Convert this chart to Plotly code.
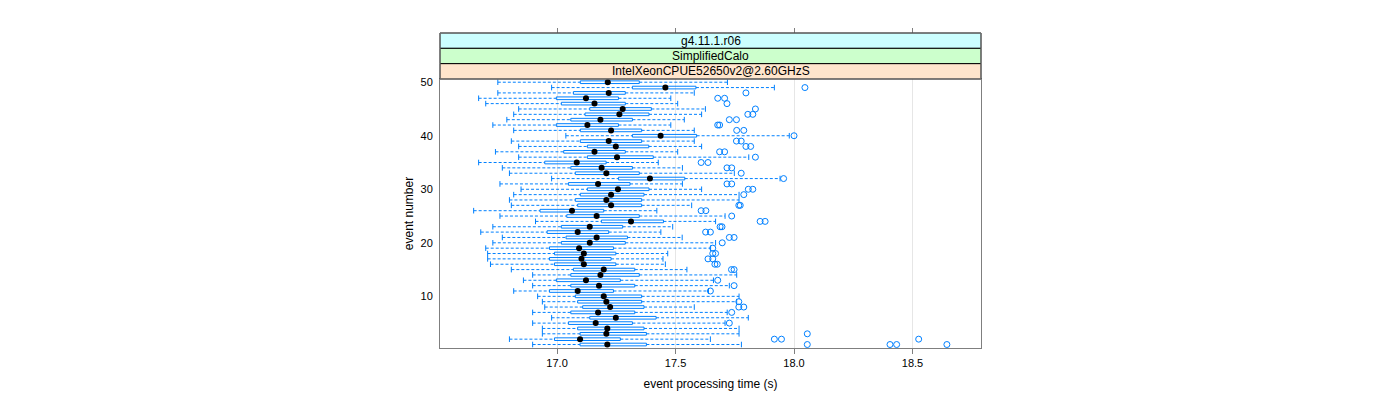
import plotly.graph_objects as go

# ---------------- data (event 1 .. 50) ----------------
events = list(range(1, 51))
whisker_low = [16.897, 16.799, 16.938, 16.938, 16.897, 16.977, 16.897, 16.948, 16.938, 16.918,
               16.817, 16.897, 16.858, 16.897, 16.807, 16.719, 16.707, 16.707, 16.699, 16.729,
               16.769, 16.678, 16.729, 16.909, 16.759, 16.648, 16.807, 16.799, 16.817, 16.848,
               16.759, 16.977, 16.799, 16.769, 16.669, 16.838, 16.740, 16.838, 16.807, 17.037,
               16.817, 16.729, 16.788, 16.817, 16.838, 16.699, 16.669, 16.750, 16.977, 16.750]
q1 = [17.097, 16.989, 17.097, 17.087, 17.048, 17.138, 17.058, 17.108, 17.087, 17.077,
      16.968, 17.058, 16.997, 17.058, 17.069, 16.989, 16.968, 16.989, 16.968, 17.018,
      17.038, 16.958, 17.018, 17.187, 17.041, 16.928, 17.087, 17.077, 17.098, 17.128,
      17.048, 17.259, 17.077, 17.058, 16.948, 17.128, 17.028, 17.128, 17.098, 17.318,
      17.098, 16.997, 17.058, 17.118, 17.138, 17.018, 16.997, 17.069, 17.318, 17.098]
median = [17.212, 17.097, 17.208, 17.212, 17.163, 17.248, 17.173, 17.224, 17.208, 17.197,
          17.087, 17.177, 17.122, 17.183, 17.197, 17.113, 17.103, 17.113, 17.093, 17.138,
          17.167, 17.087, 17.138, 17.312, 17.167, 17.063, 17.228, 17.208, 17.228, 17.257,
          17.173, 17.392, 17.208, 17.188, 17.083, 17.253, 17.158, 17.248, 17.218, 17.437,
          17.228, 17.128, 17.183, 17.263, 17.277, 17.158, 17.122, 17.218, 17.457, 17.214]
q3 = [17.377, 17.267, 17.377, 17.367, 17.318, 17.418, 17.328, 17.367, 17.357, 17.357,
      17.238, 17.328, 17.267, 17.347, 17.328, 17.248, 17.228, 17.248, 17.238, 17.288,
      17.297, 17.218, 17.277, 17.449, 17.347, 17.197, 17.357, 17.357, 17.367, 17.388,
      17.308, 17.539, 17.347, 17.318, 17.207, 17.406, 17.288, 17.387, 17.357, 17.589,
      17.357, 17.259, 17.318, 17.388, 17.398, 17.288, 17.259, 17.288, 17.586, 17.347]
whisker_high = [17.778, 17.647, 17.768, 17.768, 17.709, 17.807, 17.718, 17.579, 17.758, 17.768,
                17.639, 17.727, 17.660, 17.758, 17.548, 17.457, 17.447, 17.467, 17.648, 17.669,
                17.528, 17.438, 17.488, 17.669, 17.709, 17.421, 17.568, 17.768, 17.768, 17.610,
                17.529, 17.941, 17.748, 17.529, 17.427, 17.809, 17.509, 17.610, 17.579, 17.980,
                17.579, 17.480, 17.537, 17.610, 17.626, 17.509, 17.480, 17.579, 17.917, 17.719]

outlier_event = [1, 1, 1, 1, 2, 2, 2, 3, 5, 7, 8, 8, 9, 11, 12, 13, 15, 15, 16, 16,
                 17, 17, 18, 18, 19, 20, 21, 21, 22, 22, 23, 23, 24, 24, 25, 26, 26, 27, 27,
                 29, 30, 30, 31, 31, 32, 33, 34, 34, 35, 35, 36, 37, 37, 38, 38, 39, 39, 40,
                 41, 41, 42, 42, 43, 43, 44, 44, 45, 46, 47, 47, 48, 49]
outlier_value = [18.056, 18.405, 18.433, 18.645, 17.917, 17.947, 18.526, 18.056, 17.727, 17.737,
                 17.767, 17.788, 17.767, 17.647, 17.747, 17.678, 17.736, 17.747, 17.666, 17.676,
                 17.637, 17.657, 17.657, 17.669, 17.657, 17.697, 17.727, 17.747, 17.627, 17.647,
                 17.688, 17.696, 17.857, 17.878, 17.737, 17.608, 17.628, 17.767, 17.773,
                 17.788, 17.807, 17.826, 17.717, 17.737, 17.956, 17.777, 17.717, 17.737,
                 17.608, 17.637, 17.837, 17.686, 17.707, 17.797, 17.817, 17.757, 17.777, 18.000,
                 17.758, 17.788, 17.678, 17.686, 17.727, 17.757, 17.805, 17.826, 17.837, 17.717,
                 17.678, 17.707, 17.797, 18.046]

x_ticks = [17.0, 17.5, 18.0, 18.5]
x_ticklabels = ["17.0", "17.5", "18.0", "18.5"]
y_ticks = [10, 20, 30, 40, 50]
strip_labels = ["g4.11.1.r06", "SimplifiedCalo", "IntelXeonCPUE52650v2@2.60GHzS"]
strip_colors = ["#ccffff", "#ccffcc", "#ffe5cc"]

# ---------------- figure ----------------
BLUE = "#0080ff"
FONT = "Liberation Sans, Arial, Helvetica, sans-serif"
fig = go.Figure()

# whiskers (dashed) from box edge to whisker end
wx, wy = [], []
for e, lo, a, b, hi in zip(events, whisker_low, q1, q3, whisker_high):
    wx += [lo, a, None, b, hi, None]
    wy += [e, e, None, e, e, None]
fig.add_trace(go.Scatter(x=wx, y=wy, mode="lines", line=dict(color=BLUE, width=1, dash="3px,2px"),
                         hoverinfo="skip", showlegend=False))
# whisker caps
fig.add_trace(go.Scatter(x=whisker_low + whisker_high, y=events + events, mode="markers",
                         marker=dict(symbol="line-ns", size=4, line=dict(color=BLUE, width=1)),
                         hoverinfo="skip", showlegend=False))
# boxes
fig.add_trace(go.Box(orientation="h", y=events, q1=q1, median=median, q3=q3,
                     lowerfence=q1, upperfence=q3, width=0.5, whiskerwidth=0,
                     line=dict(color=BLUE, width=1), fillcolor="rgba(255,255,255,0)",
                     boxpoints=False, showlegend=False))
# median dots
fig.add_trace(go.Scatter(x=median, y=events, mode="markers",
                         marker=dict(color="black", size=6, line=dict(width=0)),
                         showlegend=False))
# outliers
fig.add_trace(go.Scatter(x=outlier_value, y=outlier_event, mode="markers",
                         marker=dict(symbol="circle-open", size=6, color=BLUE, line=dict(width=1)),
                         showlegend=False))
# invisible trace for top axis
fig.add_trace(go.Scatter(x=x_ticks, y=[None] * len(x_ticks), xaxis="x2", mode="markers",
                         showlegend=False, hoverinfo="skip"))

plot_h = 315.0
panel_h = 269.0
ydom_top = panel_h / plot_h
strip_h = (1 - ydom_top) / 3

fig.update_layout(
    width=1400, height=400,
    margin=dict(l=432, r=427, t=25, b=60),
    paper_bgcolor="white", plot_bgcolor="white",
    font=dict(family=FONT, size=11, color="black"),
    xaxis=dict(range=[16.506, 18.789], tickvals=x_ticks, ticktext=x_ticklabels,
               ticks="outside", ticklen=5, tickcolor="#7f7f7f", tickwidth=1,
               showgrid=True, gridcolor="#e6e6e6", gridwidth=1, zeroline=False,
               showline=True, linecolor="#7f7f7f", linewidth=1, mirror=True,
               title=dict(text="event processing time (s)", font=dict(size=12), standoff=11),
               anchor="y"),
    xaxis2=dict(range=[16.506, 18.789], tickvals=x_ticks, showticklabels=False,
                overlaying="x", side="top", anchor="free", position=1,
                ticks="outside", ticklen=5, tickcolor="#7f7f7f", showgrid=False,
                zeroline=False, showline=False),
    yaxis=dict(domain=[0, ydom_top], range=[0.35, 50.6], tickvals=y_ticks,
               ticks="outside", ticklen=4, tickcolor="rgba(0,0,0,0)",
               showgrid=False, zeroline=False, showline=True, linecolor="#7f7f7f",
               linewidth=1, mirror=True,
               title=dict(text="event number", font=dict(size=12), standoff=4)),
)

# strips (outermost on top)
for i, (lab, col) in enumerate(zip(strip_labels, strip_colors)):
    y1 = 1 - i * strip_h
    y0 = y1 - strip_h
    fig.add_shape(type="rect", xref="paper", yref="paper", x0=0, x1=1, y0=y0, y1=y1,
                  fillcolor=col, line=dict(color="black", width=1), layer="above")
    fig.add_annotation(xref="paper", yref="paper", x=0.5, y=(y0 + y1) / 2, text=lab,
                       showarrow=False, font=dict(family=FONT, size=12, color="black"),
                       xanchor="center", yanchor="middle")
# outer strip border in gray
fig.add_shape(type="rect", xref="paper", yref="paper", x0=0, x1=1, y0=ydom_top, y1=1,
              fillcolor="rgba(0,0,0,0)", line=dict(color="#7f7f7f", width=1), layer="above")

fig.write_html("out.html")
